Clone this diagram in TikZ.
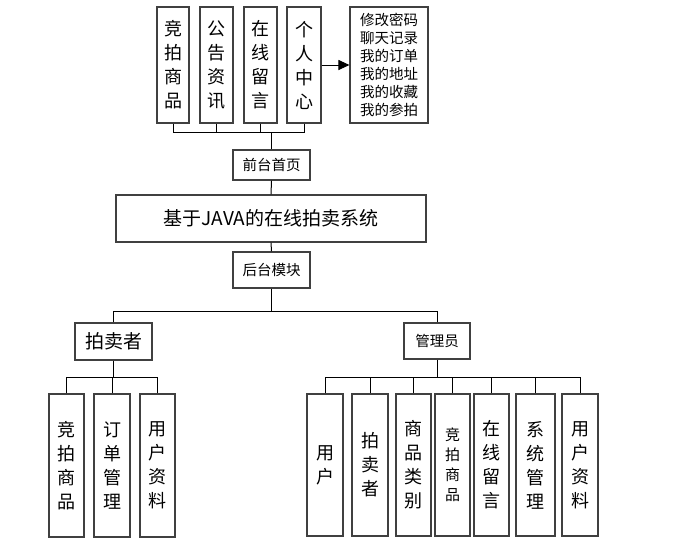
\documentclass[tikz,border=0pt]{standalone}
\usepackage{fontspec}
\setmainfont{Noto Sans CJK SC}
\usetikzlibrary{arrows.meta}
\begin{document}
\begin{tikzpicture}[x=1pt,y=-1pt,
  box/.style={draw=black!75,line width=1.1pt,inner sep=0pt,align=center,fill=white},
  vbig/.style={box,font=\fontsize{18}{24}\selectfont},
  vsmall/.style={box,font=\fontsize{15}{20}\selectfont},
  hsmall/.style={box,font=\fontsize{14.5}{18}\selectfont},
  conn/.style={draw=black,line width=1pt}]
\useasboundingbox (0,0) rectangle (677,542);
% top row
\node[vbig,minimum width=32pt,minimum height=116pt] (t1) at (173,65) {竞\\拍\\商\\品};
\node[vbig,minimum width=33pt,minimum height=116pt] (t2) at (216.5,65) {公\\告\\资\\讯};
\node[vbig,minimum width=33pt,minimum height=116pt] (t3) at (260.5,65) {在\\线\\留\\言};
\node[vbig,minimum width=34pt,minimum height=116pt] (t4) at (304,65) {个\\人\\中\\心};
\node[hsmall,align=left,minimum width=78pt,minimum height=116pt] (rb) at (389,65) {修改密码\\聊天记录\\我的订单\\我的地址\\我的收藏\\我的参拍};
\node[hsmall,minimum width=77pt,minimum height=30pt] (qt) at (271.5,165) {前台首页};
\node[box,font=\fontsize{19}{22}\selectfont,minimum width=310pt,minimum height=47pt] (main) at (271,218.5) {基于JAVA的在线拍卖系统};
\node[hsmall,minimum width=77pt,minimum height=36pt] (ht) at (271.5,270) {后台模块};
\node[box,font=\fontsize{19}{22}\selectfont,minimum width=77pt,minimum height=37pt] (pm) at (113.5,341.5) {拍卖者};
\node[hsmall,minimum width=66pt,minimum height=36pt] (gl) at (437,341) {管理员};
% left group
\node[vbig,minimum width=35pt,minimum height=143pt] (l1) at (66.5,465.5) {竞\\拍\\商\\品};
\node[vbig,minimum width=36pt,minimum height=143pt] (l2) at (112,465.5) {订\\单\\管\\理};
\node[vbig,minimum width=35pt,minimum height=143pt] (l3) at (157.5,465.5) {用\\户\\资\\料};
% right group
\node[vbig,minimum width=36pt,minimum height=142pt] (r1) at (325,465) {用\\户};
\node[vbig,minimum width=36pt,minimum height=142pt] (r2) at (370,465) {拍\\卖\\者};
\node[vbig,minimum width=35pt,minimum height=142pt] (r3) at (413.5,465) {商\\品\\类\\别};
\node[vsmall,minimum width=35pt,minimum height=142pt] (r4) at (452.5,465) {竞\\拍\\商\\品};
\node[vbig,minimum width=35pt,minimum height=142pt] (r5) at (491.5,465) {在\\线\\留\\言};
\node[vbig,minimum width=39pt,minimum height=142pt] (r6) at (535.5,465) {系\\统\\管\\理};
\node[vbig,minimum width=36pt,minimum height=142pt] (r7) at (580,465) {用\\户\\资\\料};
% connectors
\coordinate (tb) at (271.5,132);
\foreach \n in {t1,t2,t3,t4} \draw[conn] (\n.south) |- (tb);
\draw[conn] (qt.north) -- (tb);
\draw[conn] (qt.south) -- (main.north);
\draw[conn] (main.south) -- (ht.north);
\coordinate (hb) at (271.5,311);
\draw[conn] (ht.south) -- (hb);
\draw[conn] (pm.north) |- (hb);
\draw[conn] (gl.north) |- (hb);
\coordinate (pb) at (113.5,377);
\draw[conn] (pm.south) -- (pb);
\foreach \n in {l1,l2,l3} \draw[conn] (\n.north) |- (pb);
\coordinate (gb) at (437,377);
\draw[conn] (gl.south) -- (gb);
\foreach \n in {r1,r2,r3,r4,r5,r6,r7} \draw[conn] (\n.north) |- (gb);
\draw[conn,-{Triangle[length=11pt,width=10pt]}] (t4.east) -- (rb.west);
\end{tikzpicture}
\end{document}
